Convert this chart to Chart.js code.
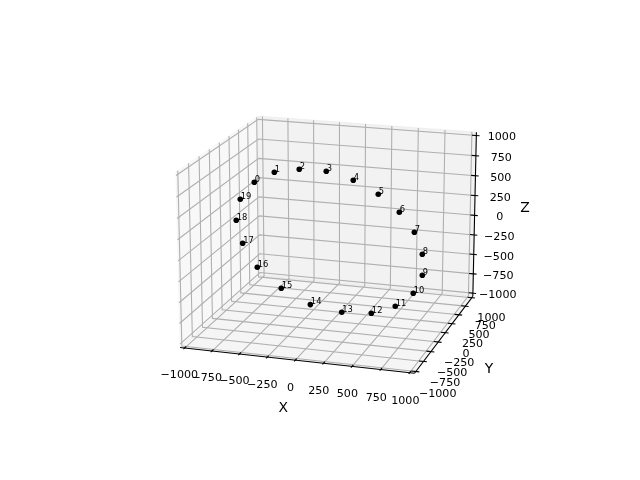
<!DOCTYPE html>
<html>
<head>
<meta charset="utf-8">
<style>html,body{margin:0;background:#fff}canvas{display:block}</style>
<script src="https://cdn.jsdelivr.net/npm/chart.js@4/dist/chart.umd.min.js"></script>
</head>
<body>
<canvas id="c" width="640" height="480"></canvas>
<script>
// Values
const xVals = [-718,-530,-299,-51,195,422,613,750,824,827,747,585,366,92,-201,-474,-699,-835,-893,-852];
const yVals = [0,0,0,0,0,0,0,0,0,0,0,0,0,0,0,0,0,0,0,0];
const zVals = [591,733,794,797,715,572,377,151,-107,-363,-594,-777,-894,-919,-863,-694,-459,-176,104,368];
const pointLabels = ['0','1','2','3','4','5','6','7','8','9','10','11','12','13','14','15','16','17','18','19'];
const tickVals = [-1000,-750,-500,-250,0,250,500,750,1000];
const axisTitles = ['X','Y','Z'];

// 3d view, same maths as mplot3d
const elev = 17, azim = -72.75, dist = 10, zoom = 0.955;
const lim = 1000, e = 1041.67;
const k = 1.8294640721620434 * 25 / 24 / Math.sqrt(41) * zoom;
const box = [4 * k, 4 * k, 3 * k];
const el = elev * Math.PI / 180, az = azim * Math.PI / 180;
const w = [Math.cos(el) * Math.cos(az), Math.cos(el) * Math.sin(az), Math.sin(el)];
const wl = Math.hypot(w[0], w[1]);
const u = [-w[1] / wl, w[0] / wl, 0];
const v = [w[1] * u[2] - w[2] * u[1], w[2] * u[0] - w[0] * u[2], w[0] * u[1] - w[1] * u[0]];
const dot = (a, b) => a[0] * b[0] + a[1] * b[1] + a[2] * b[2];

function project(x, y, z) {
    const p = [x / lim / 2 * box[0], y / lim / 2 * box[1], z / lim / 2 * box[2]];
    const r = [p[0] - dist * w[0], p[1] - dist * w[1], p[2] - dist * w[2]];
    const d = -dot(w, r);
    return { x: dot(u, r) / d, y: dot(v, r) / d };
}

const datasets = [];
function line(list, color, order) {
    datasets.push({ data: list.map(a => project(a[0], a[1], a[2])), showLine: true, borderColor: color, borderWidth: 1.1, pointRadius: 0, order: order });
}
function pane(list, color) {
    datasets.push({ data: list.concat([list[0]]).map(a => project(a[0], a[1], a[2])), showLine: true, fill: 'shape', backgroundColor: color, borderColor: color, borderWidth: 1, pointRadius: 0, order: 5 });
}

pane([[-e, -e, -e], [-e, e, -e], [-e, e, e], [-e, -e, e]], 'rgba(242,242,242,0.5)');
pane([[-e, e, -e], [e, e, -e], [e, e, e], [-e, e, e]], 'rgba(230,230,230,0.5)');
pane([[-e, -e, -e], [e, -e, -e], [e, e, -e], [-e, e, -e]], 'rgba(236,236,236,0.5)');

tickVals.forEach(t => {
    line([[t, -e, -e], [t, e, -e], [t, e, e]], '#b0b0b0', 4);
    line([[e, t, -e], [-e, t, -e], [-e, t, e]], '#b0b0b0', 4);
    line([[-e, -e, t], [-e, e, t], [e, e, t]], '#b0b0b0', 4);
    line([[t, -e + 40, -e], [t, -e - 30, -e]], '#000', 2);
    line([[e - 40, t, -e], [e + 30, t, -e]], '#000', 2);
    line([[e - 40, e, t], [e + 30, e, t]], '#000', 2);
});
line([[-e, -e, -e], [e, -e, -e]], '#000', 2);
line([[e, -e, -e], [e, e, -e]], '#000', 2);
line([[e, e, -e], [e, e, e]], '#000', 2);

datasets.push({
    data: xVals.map((x, i) => project(x, yVals[i], zVals[i])),
    backgroundColor: '#000', borderColor: '#000', borderWidth: 0, pointRadius: 2.8, order: 0
});

// tick labels, axis titles and point numbers live in 3d too
const textPlugin = {
    id: 'text3d',
    afterDatasetsDraw(chart) {
        const ctx = chart.ctx;
        const put = (str, q, dx, dy) => ctx.fillText(str, chart.scales.x.getPixelForValue(q.x) + dx, chart.scales.y.getPixelForValue(q.y) + dy);
        ctx.save();
        ctx.fillStyle = '#000';
        ctx.textAlign = 'center';
        ctx.textBaseline = 'middle';
        ctx.font = '11.1px "DejaVu Sans"';
        tickVals.forEach(t => {
            const s = String(t).replace('-', '\u2212');
            put(s, project(t, -e - 160, -e - 255), 1, 0);
            put(s, project(e + 190, t, -e - 235), 0, 0);
            put(s, project(e + 235, e, t), 0, 0);
        });
        ctx.font = '13.9px "DejaVu Sans"';
        put(axisTitles[0], project(0, -e - 350, -e - 400), 1, 0);
        put(axisTitles[1], project(e + 400, 0, -e - 395), 0, 0);
        put(axisTitles[2], project(e + 465, e, 140), 0, 0);
        ctx.font = '8.33px "DejaVu Sans"';
        ctx.textAlign = 'left';
        ctx.textBaseline = 'alphabetic';
        pointLabels.forEach((s, i) => put(s, project(xVals[i], yVals[i], zVals[i]), 0.5, -0.7));
        ctx.restore();
    }
};

new Chart(document.getElementById('c'), {
    type: 'scatter',
    data: { datasets: datasets },
    options: {
        responsive: false,
        animation: false,
        layout: { padding: { left: 143.2, right: 127.2, top: 57.6, bottom: 52.8 } },
        plugins: { legend: { display: false }, tooltip: { enabled: false } },
        scales: {
            x: { display: false, min: -0.09442, max: 0.09057 },
            y: { display: false, min: -0.09509, max: 0.08994 }
        }
    },
    plugins: [textPlugin]
});
</script>
</body>
</html>
